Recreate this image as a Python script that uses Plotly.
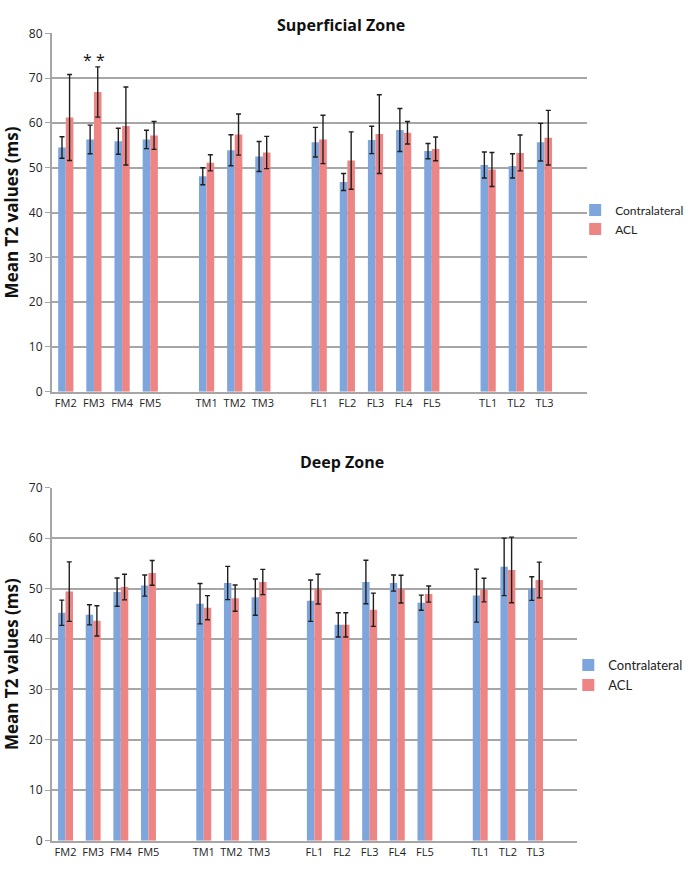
import plotly.graph_objects as go

# ---------------- data ----------------
groups = [["FM2", "FM3", "FM4", "FM5"],
          ["TM1", "TM2", "TM3"],
          ["FL1", "FL2", "FL3", "FL4", "FL5"],
          ["TL1", "TL2", "TL3"]]

sup_contra = [54.5, 56.3, 55.9, 56.3, 48.1, 53.9, 52.5, 55.7, 46.8, 56.2, 58.4, 53.7, 50.6, 50.4, 55.7]
sup_contra_err = [2.4, 3.2, 2.9, 2.05, 1.9, 3.45, 3.35, 3.3, 1.9, 3.05, 4.8, 1.7, 2.9, 2.7, 4.2]
sup_acl = [61.2, 66.9, 59.3, 57.2, 51.1, 57.4, 53.4, 56.3, 51.6, 57.5, 57.8, 54.2, 49.6, 53.3, 56.7]
sup_acl_err = [9.6, 5.6, 8.7, 3.1, 1.8, 4.6, 3.6, 5.4, 6.4, 8.8, 2.5, 2.65, 3.8, 4.0, 6.1]

deep_contra = [45.2, 44.8, 49.3, 50.6, 47.0, 51.1, 48.3, 47.6, 42.8, 51.3, 51.1, 47.2, 48.6, 54.3, 50.0]
deep_contra_err = [2.5, 2.0, 2.8, 2.1, 4.0, 3.3, 3.6, 4.1, 2.4, 4.3, 1.6, 1.5, 5.25, 5.7, 2.35]
deep_acl = [49.4, 43.6, 50.3, 53.1, 46.2, 48.1, 51.3, 49.9, 42.8, 45.8, 49.9, 48.9, 49.7, 53.7, 51.7]
deep_acl_err = [5.9, 3.0, 2.55, 2.45, 2.4, 2.6, 2.5, 2.95, 2.4, 3.3, 2.75, 1.6, 2.35, 6.5, 3.55]

series_names = ["Contralateral", "ACL"]
titles = ["Superficial Zone", "Deep Zone"]
y_title = "Mean T2 values (ms)"
significance = {"FM3": "* *"}

# ---------------- positions (one empty slot between groups) ----------------
labels, pos = [], []
p = 0
for gi, g in enumerate(groups):
    for lab in g:
        labels.append(lab)
        pos.append(p)
        p += 1
    p += 1
n_slots = p - 1

BLUE = "#7EA6DC"
RED = "#EE8585"
GRID = "#A6A6A6"
FONT = "Open Sans, Lato, sans-serif"
LFONT = "Lato, Open Sans, sans-serif"

fig = go.Figure()

panels = [
    dict(c=sup_contra, ce=sup_contra_err, a=sup_acl, ae=sup_acl_err, xa="x", ya="y",
         legend="legend", yrange=[0, 80], ydom=[1 - 391.7 / 871, 1 - 33.3 / 871],
         xdom=[51.7 / 688, 586.7 / 688]),
    dict(c=deep_contra, ce=deep_contra_err, a=deep_acl, ae=deep_acl_err, xa="x2", ya="y2",
         legend="legend2", yrange=[0, 70], ydom=[1 - 840.7 / 871, 1 - 487.7 / 871],
         xdom=[51.7 / 688, 577 / 688]),
]

for pn in panels:
    for name, vals, errs, col in [(series_names[0], pn["c"], pn["ce"], BLUE),
                                  (series_names[1], pn["a"], pn["ae"], RED)]:
        fig.add_trace(go.Bar(
            x=pos, y=vals, name=name, xaxis=pn["xa"], yaxis=pn["ya"],
            legend=pn["legend"],
            marker=dict(color=col, line=dict(width=0)),
            error_y=dict(type="data", array=errs, color="#1f1f1f", thickness=1.4, width=2.5),
        ))

axis_common_x = dict(
    tickmode="array", tickvals=pos, ticktext=labels, range=[-0.5, n_slots + 0.5],
    showgrid=False, showline=True, linecolor=GRID, linewidth=1.5, ticks="",
    tickangle=0, automargin=False,
    tickfont=dict(family=FONT, size=11, color="#222"), zeroline=False,
)
axis_common_y = dict(
    dtick=10, showgrid=True, gridcolor=GRID, gridwidth=1.5, showline=True,
    linecolor=GRID, linewidth=1.5, ticks="outside", ticklen=5, tickcolor=GRID,
    automargin=False,
    tickfont=dict(family=FONT, size=12, color="#222"), zeroline=False,
    title=dict(text="<b>" + y_title + "</b>", font=dict(family=FONT, size=17, color="#111"), standoff=6),
)

fig.update_layout(
    xaxis=dict(domain=panels[0]["xdom"], anchor="y", **axis_common_x),
    yaxis=dict(domain=panels[0]["ydom"], anchor="x", range=panels[0]["yrange"], **axis_common_y),
    xaxis2=dict(domain=panels[1]["xdom"], anchor="y2", **axis_common_x),
    yaxis2=dict(domain=panels[1]["ydom"], anchor="x2", range=panels[1]["yrange"], **axis_common_y),
    barmode="group", bargap=0.46, bargroupgap=0.0,
    width=688, height=871,
    margin=dict(l=0, r=0, t=0, b=0, autoexpand=False),
    paper_bgcolor="white", plot_bgcolor="white",
    font=dict(family=FONT, color="#222"),
    legend=dict(x=0.836, y=0.748, xanchor="left", yanchor="middle",
                font=dict(family=LFONT, size=12, color="#222"), itemwidth=30,
                tracegroupgap=2, bgcolor="rgba(0,0,0,0)"),
    legend2=dict(x=0.826, y=0.225, xanchor="left", yanchor="middle",
                 font=dict(family=LFONT, size=13, color="#222"), itemwidth=30,
                 tracegroupgap=2, bgcolor="rgba(0,0,0,0)"),
    showlegend=True,
)

# titles
fig.add_annotation(text="<b>" + titles[0] + "</b>", xref="paper", yref="paper",
                   x=341 / 688, y=1 - 12 / 871, showarrow=False,
                   font=dict(family=FONT, size=16, color="#111"))
fig.add_annotation(text="<b>" + titles[1] + "</b>", xref="paper", yref="paper",
                   x=342 / 688, y=1 - 462 / 871, showarrow=False,
                   font=dict(family=FONT, size=16, color="#111"))

# significance markers
for lab, txt in significance.items():
    i = labels.index(lab)
    fig.add_annotation(text=txt, x=pos[i], y=sup_acl[i] + sup_acl_err[i] + 1.6, xref="x", yref="y",
                       yanchor="middle", showarrow=False,
                       font=dict(family=FONT, size=16, color="#111"))

fig.write_html("out.html", config={"displayModeBar": False},
               post_script="document.body.style.margin='0';document.body.style.padding='0';")
